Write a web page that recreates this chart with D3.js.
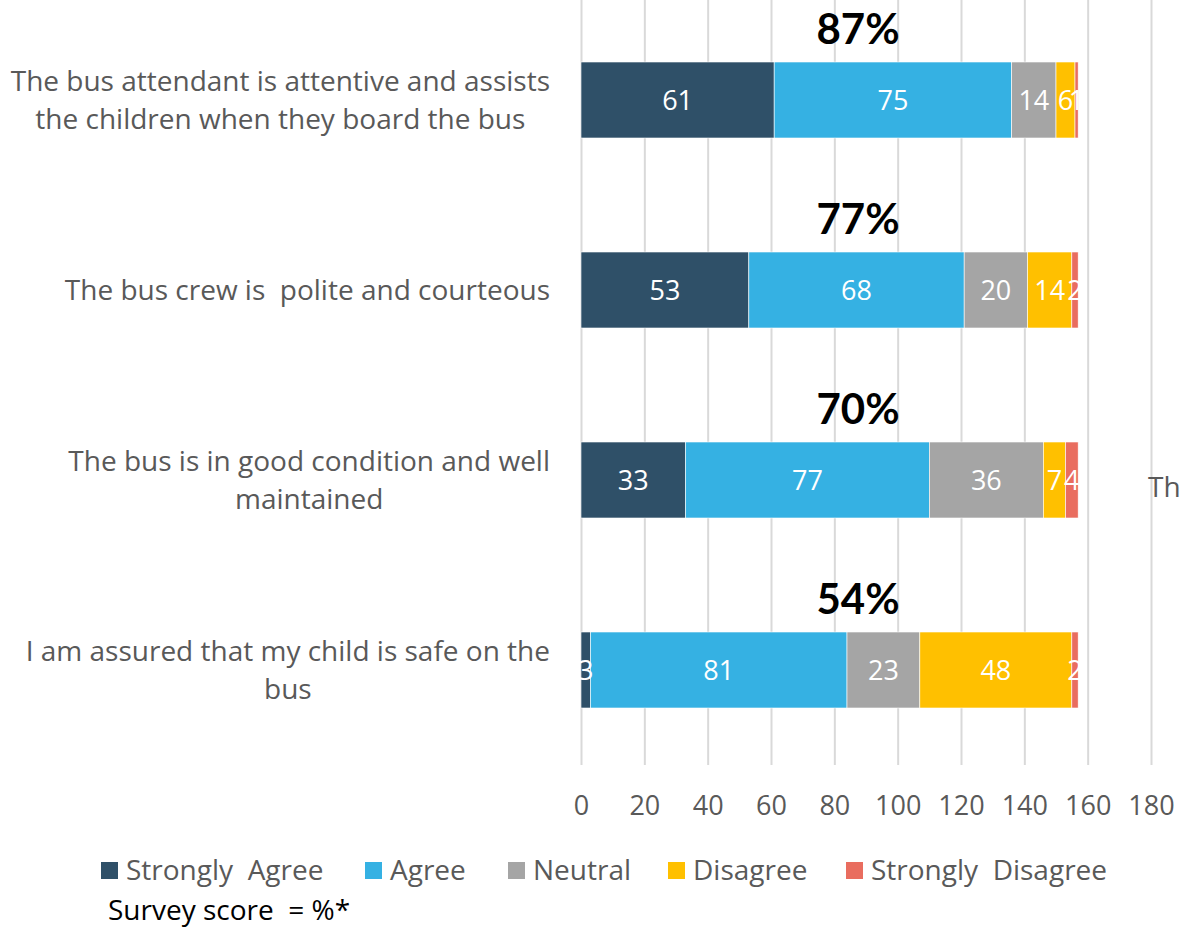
<!DOCTYPE html>
<html>
<head>
<meta charset="utf-8">
<script src="https://cdn.jsdelivr.net/npm/d3@7"></script>
<style>
  html, body { margin: 0; padding: 0; background: #fff; }
  svg { display: block; font-family: "Open Sans", Lato, sans-serif; }
  text { white-space: pre; }
</style>
</head>
<body>
<svg id="chart" width="1181" height="929"></svg>
<script>
// Survey questions, each split into its displayed lines
const categoryLines = [
  ["The bus attendant is attentive and assists", "the children when they board the bus"],
  ["The bus crew is  polite and courteous"],
  ["The bus is in good condition and well", "maintained"],
  ["I am assured that my child is safe on the", "bus"]
];
const categories = categoryLines.map(l => l.join(" "));

// Response counts per question
const stronglyAgree    = [61, 53, 33, 3];
const agree            = [75, 68, 77, 81];
const neutral          = [14, 20, 36, 23];
const disagree         = [6, 14, 7, 48];
const stronglyDisagree = [1, 2, 4, 2];

// Survey score shown above each bar
const scores = ["87%", "77%", "70%", "54%"];

const seriesNames  = ["Strongly  Agree", "Agree", "Neutral", "Disagree", "Strongly  Disagree"];
const seriesKeys   = ["sa", "a", "n", "d", "sd"];
const seriesColors = ["#2F5068", "#35B1E3", "#A5A5A5", "#FFC000", "#E96D5F"];

const tickValues = [0, 20, 40, 60, 80, 100, 120, 140, 160, 180];

const rows = categories.map((c, i) => ({
  category: c,
  sa: stronglyAgree[i], a: agree[i], n: neutral[i], d: disagree[i], sd: stronglyDisagree[i]
}));

const svg = d3.select("#chart");
const gridTop = 0, plotBottom = 765;
const textFont = "28px";
const numFont = "27px";

const x = d3.scaleLinear().domain([0, 180]).range([581, 1151]);
const y = d3.scaleBand().domain(categories).range([5, plotBottom])
  .paddingInner(0.6).paddingOuter(0.3);

// Vertical gridlines
svg.append("g")
  .attr("transform", `translate(0,${plotBottom})`)
  .call(d3.axisBottom(x).tickValues(tickValues).tickSize(-(plotBottom - gridTop)).tickFormat(""))
  .call(g => g.select(".domain").remove())
  .call(g => g.selectAll("line").attr("stroke", "#D9D9D9").attr("stroke-width", 2));

// Tick labels
svg.append("g")
  .attr("transform", `translate(0,${plotBottom})`)
  .call(d3.axisBottom(x).tickValues(tickValues).tickSize(0))
  .call(g => g.select(".domain").remove())
  .call(g => g.selectAll("text")
    .attr("y", 41).attr("dy", "0.35em")
    .attr("fill", "#595959")
    .style("font-size", numFont)
    .style("font-family", "'Open Sans', Lato, sans-serif"));

// Stacked bars
const stack = d3.stack().keys(seriesKeys);
const stacked = stack(rows);
const color = d3.scaleOrdinal().domain(seriesKeys).range(seriesColors);

svg.append("defs").append("clipPath").attr("id", "plotClip")
  .append("rect").attr("x", 579).attr("y", 0).attr("width", 600).attr("height", plotBottom);

const layers = svg.append("g").selectAll("g")
  .data(stacked).join("g")
  .attr("fill", d => color(d.key));

layers.selectAll("rect")
  .data(d => d)
  .join("rect")
  .attr("x", d => x(d[0]))
  .attr("y", d => y(d.data.category))
  .attr("width", d => x(d[1]) - x(d[0]))
  .attr("height", y.bandwidth())
  .attr("stroke", "#fff")
  .attr("stroke-width", 0.6);

// Segment value labels
const labelG = svg.append("g").attr("clip-path", "url(#plotClip)");
stacked.forEach(layer => {
  labelG.selectAll(null)
    .data(layer)
    .join("text")
    .attr("x", d => x((d[0] + d[1]) / 2))
    .attr("y", d => y(d.data.category) + y.bandwidth() / 2)
    .attr("dy", "0.36em")
    .attr("text-anchor", "middle")
    .attr("fill", "#fff")
    .style("font-size", numFont)
    .text(d => d[1] - d[0]);
});

// Survey score above each bar
svg.append("g").selectAll("text")
  .data(categories)
  .join("text")
  .attr("x", 858)
  .attr("y", d => y(d) - 18)
  .attr("text-anchor", "middle")
  .attr("fill", "#000")
  .style("font-family", "Lato, 'Open Sans', sans-serif")
  .style("font-size", "42px")
  .style("font-weight", "bold")
  .text((d, i) => scores[i]);

// Category labels: each block is right-aligned, lines centered within the block
const catG = svg.append("g");
const lineH = 38;
categoryLines.forEach((lines, i) => {
  const cy = y(categories[i]) + y.bandwidth() / 2;
  const g = catG.append("g");
  const texts = lines.map((line, j) => g.append("text")
    .attr("y", cy + (j - (lines.length - 1) / 2) * lineH)
    .attr("dy", "0.35em")
    .attr("fill", "#595959")
    .style("font-size", textFont)
    .text(line));
  const widths = texts.map(t => t.node().getComputedTextLength());
  const maxW = d3.max(widths);
  const center = 550 - maxW / 2;
  texts.forEach(t => t.attr("x", center).attr("text-anchor", "middle"));
});

// Truncated side note
svg.append("text")
  .attr("x", 1148).attr("y", 487).attr("dy", "0.35em")
  .attr("fill", "#595959")
  .style("font-size", textFont)
  .text("Th");

// Legend
const legendX = [101, 365, 508, 668, 846];
const legend = svg.append("g").selectAll("g")
  .data(seriesNames)
  .join("g")
  .attr("transform", (d, i) => `translate(${legendX[i]},862)`);
legend.append("rect")
  .attr("width", 17).attr("height", 17)
  .attr("fill", (d, i) => seriesColors[i]);
legend.append("text")
  .attr("x", 25).attr("y", 8.5).attr("dy", "0.35em")
  .attr("fill", "#595959")
  .style("font-size", textFont)
  .text(d => d);

// Footnote
svg.append("text")
  .attr("x", 108).attr("y", 910).attr("dy", "0.35em")
  .attr("fill", "#000")
  .style("font-size", textFont)
  .text("Survey score  = %*");
</script>
</body>
</html>
